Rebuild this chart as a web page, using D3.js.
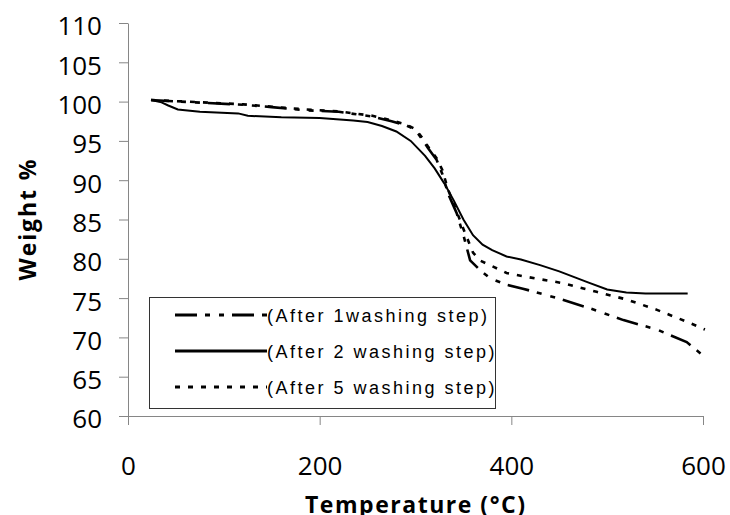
<!DOCTYPE html>
<html lang="en">
  <head>
    <title>TGA weight loss</title>
    <meta charset="utf-8" />
    <script src="https://d3js.org/d3.v7.min.js"></script>
    <style>
      body { margin: 0; background: #fff; }
      .axis path, .axis line { stroke: #868686; }
      .axis text { font-family: "Open Sans", sans-serif; font-size: 26px; fill: #000; }
      .title { font-family: "Open Sans", sans-serif; font-weight: bold; font-size: 23px; }
      .legend text { font-family: "Liberation Sans", Arial, sans-serif; font-size: 18px; letter-spacing: 2.5px; }
    </style>
  </head>
  <body>
    <svg id="chart" width="730" height="515"></svg>
    <script>
      // temperature (C) and weight (%)
      const temp1 = [24, 70, 120, 150, 185, 220, 255, 275, 290, 300, 307, 313, 322, 328, 334, 343, 350, 357, 367, 378, 395, 412, 448, 482, 517, 552, 583, 602];
      const wash1 = [100.2, 99.9, 99.6, 99.3, 98.9, 98.7, 98.1, 97.5, 97.0, 96.4, 95.2, 94.1, 92.6, 90.8, 88.3, 85.8, 83.0, 79.8, 78.6, 77.5, 76.7, 76.2, 75.0, 73.7, 72.2, 71.0, 69.4, 67.5];

      const temp2 = [24, 35, 42, 52, 75, 115, 125, 160, 200, 235, 250, 265, 280, 295, 310, 320, 330, 340, 350, 360, 370, 380, 395, 410, 430, 450, 465, 480, 500, 520, 540, 584];
      const wash2 = [100.2, 99.9, 99.5, 99.0, 98.7, 98.5, 98.2, 98.0, 97.9, 97.6, 97.4, 96.9, 96.2, 95.0, 93.1, 91.5, 89.6, 87.4, 85.0, 83.0, 81.8, 81.1, 80.3, 79.9, 79.2, 78.4, 77.7, 77.0, 76.1, 75.7, 75.6, 75.6];

      const temp5 = [24, 70, 120, 150, 185, 220, 255, 275, 290, 300, 307, 313, 322, 328, 334, 343, 350, 360, 367, 381, 395, 416, 454, 489, 521, 552, 583, 602];
      const wash5 = [100.2, 99.95, 99.65, 99.35, 99.0, 98.75, 98.2, 97.6, 97.1, 96.5, 95.4, 94.3, 92.8, 91.3, 88.8, 86.0, 83.8, 80.8, 79.8, 79.0, 78.2, 77.7, 76.9, 75.8, 74.8, 73.5, 72.0, 71.0];

      const seriesNames = ["(After 1washing step)", "(After 2 washing step)", "(After 5 washing step)"];
      const xTicks = [0, 200, 400, 600];
      const yTicks = [60, 65, 70, 75, 80, 85, 90, 95, 100, 105, 110];

      const series = [
        {name: seriesNames[0], t: temp1, w: wash1, dash: "22,8,5,9,5,8"},
        {name: seriesNames[1], t: temp2, w: wash2, dash: null},
        {name: seriesNames[2], t: temp5, w: wash5, dash: "5,8"}
      ];

      const svg = d3.select("svg#chart");
      const margin = {top: 23, left: 128, right: 27, bottom: 99};
      const width = 730, height = 515;

      const x = d3.scaleLinear().domain([0, 600]).range([margin.left, width - margin.right]);
      const y = d3.scaleLinear().domain([60, 110]).range([height - margin.bottom, margin.top]);

      svg.append("g")
        .attr("class", "axis")
        .attr("transform", "translate(0," + y(60) + ")")
        .call(d3.axisBottom(x).tickValues(xTicks).tickSize(9).tickSizeOuter(0).tickPadding(32))
        .selectAll("text").attr("dy", "0.71em");

      svg.append("g")
        .attr("class", "axis")
        .attr("transform", "translate(" + x(0) + ",0)")
        .call(d3.axisLeft(y).tickValues(yTicks).tickSize(9).tickSizeOuter(0).tickPadding(17))
        .selectAll("text").attr("dy", "0.46em");

      svg.selectAll(".axis .domain").attr("stroke", "#868686");

      svg.append("text")
        .attr("class", "title")
        .attr("transform", "translate(36,220) rotate(-90)")
        .attr("text-anchor", "middle")
        .attr("textLength", 121)
        .attr("lengthAdjust", "spacing")
        .text("Weight %");

      svg.append("text")
        .attr("class", "title")
        .attr("x", 415)
        .attr("y", 513)
        .attr("text-anchor", "middle")
        .attr("textLength", 220)
        .attr("lengthAdjust", "spacing")
        .text("Temperature (°C)");

      const line = d3.line()
        .x(d => x(d[0]))
        .y(d => y(d[1]));

      svg.append("g").selectAll("path.curve")
        .data(series)
        .join("path")
        .attr("class", "curve")
        .attr("d", s => line(s.t.map((t, i) => [t, s.w[i]])))
        .attr("fill", "none")
        .attr("stroke", "#000")
        .attr("stroke-width", s => s.dash ? 2.6 : 2)
        .attr("stroke-dasharray", s => s.dash);

      // legend box
      const legend = svg.append("g").attr("class", "legend");
      legend.append("rect")
        .attr("x", 149.5).attr("y", 297.5)
        .attr("width", 346).attr("height", 111)
        .attr("fill", "#fff")
        .attr("stroke", "#333")
        .attr("stroke-width", 1);

      const rows = legend.selectAll("g.row")
        .data(series)
        .join("g")
        .attr("class", "row")
        .attr("transform", (s, i) => "translate(0," + (315 + i * 36) + ")");

      rows.append("line")
        .attr("x1", 175).attr("x2", 267)
        .attr("stroke", "#000")
        .attr("stroke-width", 2.8)
        .attr("stroke-dasharray", s => s.dash);

      rows.append("text")
        .attr("x", 267)
        .attr("y", 6.5)
        .text(s => s.name);
    </script>
  </body>
</html>
